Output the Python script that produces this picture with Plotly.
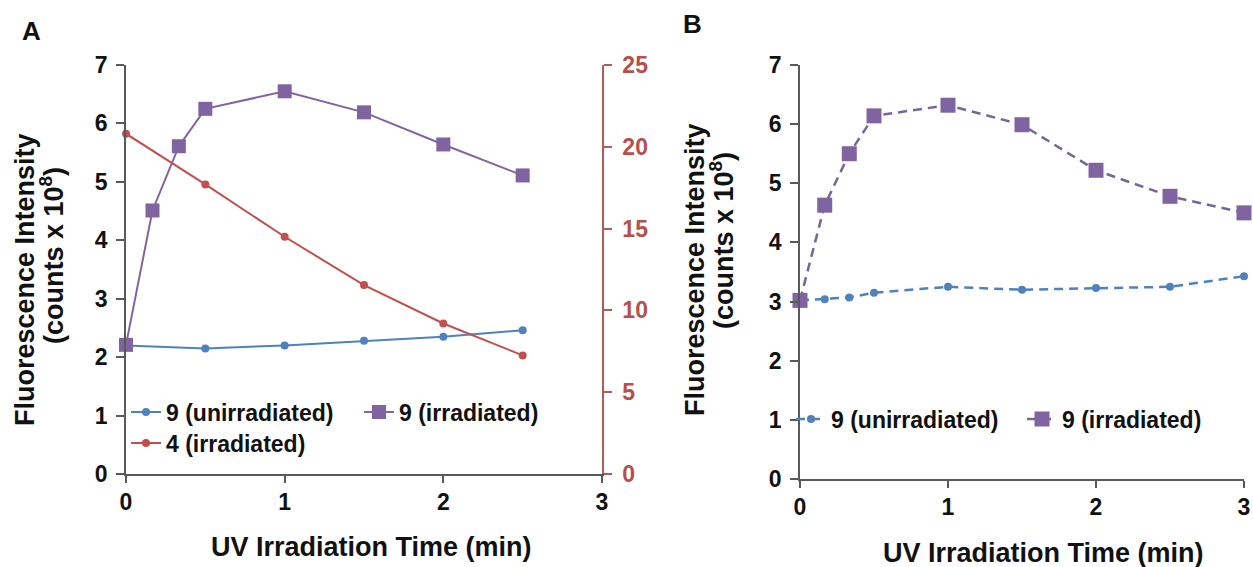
import plotly.graph_objects as go

# ---------------- data ----------------
# Panel A
a_time_blue = [0, 0.5, 1, 1.5, 2, 2.5]
a_unirr_9 = [2.20, 2.15, 2.20, 2.28, 2.35, 2.46]

a_time_purple = [0, 0.167, 0.333, 0.5, 1, 1.5, 2, 2.5]
a_irr_9 = [2.21, 4.51, 5.61, 6.25, 6.55, 6.19, 5.64, 5.11]

a_time_red = [0, 0.5, 1, 1.5, 2, 2.5]
a_irr_4 = [20.8, 17.7, 14.5, 11.55, 9.2, 7.25]

# Panel B
b_time = [0, 0.167, 0.333, 0.5, 1, 1.5, 2, 2.5, 3]
b_unirr_9 = [3.02, 3.04, 3.07, 3.15, 3.25, 3.20, 3.23, 3.25, 3.43]
b_irr_9 = [3.02, 4.63, 5.50, 6.14, 6.32, 5.99, 5.22, 4.78, 4.50]

x_ticks = [0, 1, 2, 3]
y_ticks = [0, 1, 2, 3, 4, 5, 6, 7]
y2_ticks = [0, 5, 10, 15, 20, 25]

# ---------------- styles ----------------
BLUE = "#4F81BD"
RED = "#C0504D"
PURPLE = "#8064A2"
AXIS = "#595959"
RAXIS = "#B45A58"
FONT = "Liberation Sans, Arial, sans-serif"
W, H = 1253, 567

fig = go.Figure()

# Panel A traces
fig.add_trace(go.Scatter(x=a_time_blue, y=a_unirr_9, mode="lines+markers",
                         name="9 (unirradiated)", xaxis="x", yaxis="y",
                         line=dict(color=BLUE, width=2),
                         marker=dict(color=BLUE, size=8, symbol="circle"),
                         cliponaxis=False, legend="legend"))
fig.add_trace(go.Scatter(x=a_time_purple, y=a_irr_9, mode="lines+markers",
                         name="9 (irradiated)", xaxis="x", yaxis="y",
                         line=dict(color=PURPLE, width=2),
                         marker=dict(color=PURPLE, size=14, symbol="square"),
                         cliponaxis=False, legend="legend"))
fig.add_trace(go.Scatter(x=a_time_red, y=a_irr_4, mode="lines+markers",
                         name="4 (irradiated)", xaxis="x", yaxis="y2",
                         line=dict(color=RED, width=2),
                         marker=dict(color=RED, size=8, symbol="circle"),
                         cliponaxis=False, legend="legend2"))

# Panel B traces
fig.add_trace(go.Scatter(x=b_time, y=b_unirr_9, mode="lines+markers",
                         name="9 (unirradiated)", xaxis="x2", yaxis="y3",
                         line=dict(color=BLUE, width=2.5, dash="9px,6px"),
                         marker=dict(color=BLUE, size=8, symbol="circle"),
                         cliponaxis=False, legend="legend3"))
fig.add_trace(go.Scatter(x=b_time, y=b_irr_9, mode="lines+markers",
                         name="9 (irradiated)", xaxis="x2", yaxis="y3",
                         line=dict(color="#76659A", width=2.5, dash="9px,6px"),
                         marker=dict(color=PURPLE, size=15, symbol="square"),
                         cliponaxis=False, legend="legend3"))

tickfont = dict(family=FONT, size=23, color="#111111", weight="bold")

def xax(domain, anchor):
    return dict(domain=domain, anchor=anchor, range=[0, 3], tickvals=x_ticks,
                showline=True, linecolor=AXIS, linewidth=1.5, ticks="outside",
                ticklen=7, tickwidth=1.5, tickcolor=AXIS, showgrid=False,
                zeroline=False, tickfont=tickfont, ticklabelstandoff=0)

def yax(domain, anchor):
    return dict(domain=domain, anchor=anchor, range=[0, 7], tickvals=y_ticks,
                showline=True, linecolor=AXIS, linewidth=1.5, ticks="outside",
                ticklen=8, tickwidth=1.5, tickcolor=AXIS, showgrid=False,
                zeroline=False, tickfont=tickfont, ticklabelstandoff=4)

xa_dom = [126 / W, 602 / W]
ya_dom = [1 - 474 / H, 1 - 65 / H]
xb_dom = [800 / W, 1244 / W]
yb_dom = [1 - 479 / H, 1 - 65 / H]

legfont = dict(family=FONT, size=23, color="#111111", weight="bold")

fig.update_layout(
    width=W, height=H,
    margin=dict(l=0, r=0, t=0, b=0, autoexpand=False),
    paper_bgcolor="white", plot_bgcolor="white",
    xaxis=xax(xa_dom, "y"),
    yaxis=yax(ya_dom, "x"),
    yaxis2=dict(domain=ya_dom, anchor="x", overlaying="y", side="right",
                range=[0, 25], tickvals=y2_ticks, showline=True,
                linecolor=RAXIS, linewidth=1.5, ticks="outside", ticklen=8,
                tickwidth=1.5, tickcolor=RAXIS, showgrid=False, zeroline=False,
                tickfont=dict(family=FONT, size=23, color="#B5504D", weight="bold"),
                ticklabelstandoff=6),
    xaxis2=xax(xb_dom, "y3"),
    yaxis3=yax(yb_dom, "x2"),
    showlegend=True,
    legend=dict(orientation="h", x=126 / W, y=1 - 412 / H, xanchor="left",
                yanchor="middle", bgcolor="rgba(0,0,0,0)", font=legfont,
                entrywidth=188, entrywidthmode="pixels", tracegroupgap=0),
    legend2=dict(orientation="h", x=126 / W, y=1 - 443 / H, xanchor="left",
                 yanchor="middle", bgcolor="rgba(0,0,0,0)", font=legfont),
    legend3=dict(orientation="h", x=791 / W, y=1 - 419 / H, xanchor="left",
                 yanchor="middle", bgcolor="rgba(0,0,0,0)", font=legfont,
                 entrywidth=186, entrywidthmode="pixels"),
)

def ann(text, x, y, size, angle=0):
    fig.add_annotation(text=text, x=x / W, y=1 - y / H, xref="paper", yref="paper",
                       xanchor="center", yanchor="middle", showarrow=False,
                       textangle=angle,
                       font=dict(family=FONT, size=size, color="#111111", weight="bold"))

# panel labels
ann("A", 31, 31, 26)
ann("B", 692, 24, 26)
# x titles
ann("UV Irradiation Time (min)", 372, 547, 27)
ann("UV Irradiation Time (min)", 1043, 553, 27)
# y titles
ann("Fluorescence Intensity", 25, 280, 27, -90)
ann("(counts x 10<sup>8</sup>)", 52, 256, 27, -90)
ann("Fluorescence Intensity", 695, 270, 27, -90)
ann("(counts x 10<sup>8</sup>)", 722, 241, 27, -90)

fig.write_html("out.html")
